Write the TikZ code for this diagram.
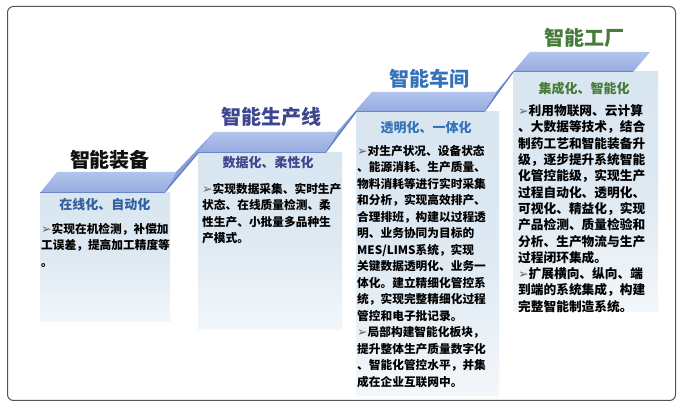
\documentclass[tikz,border=0pt]{standalone}
\usepackage{fontspec}
\newfontfamily\cjk{Noto Sans CJK SC}
\newfontfamily\djv{DejaVu Sans}
\definecolor{framec}{HTML}{555555}
\definecolor{treadtop}{HTML}{B2C3EC}
\definecolor{treadbot}{HTML}{95AADF}
\definecolor{treadline}{HTML}{6A86C8}
\definecolor{riserc}{HTML}{86A0DA}
\definecolor{riserline}{HTML}{5F7CC4}
\definecolor{boxblue}{HTML}{D3E2EE}
\definecolor{cA}{HTML}{111111}
\definecolor{cB}{HTML}{3D468E}
\definecolor{cC}{HTML}{3472B9}
\definecolor{cD}{HTML}{467B3A}
\definecolor{subA}{HTML}{2F5D9E}
\definecolor{arrowc}{HTML}{666666}
\pgfdeclareverticalshading{boxfade}{100bp}{color(0bp)=(white); color(10bp)=(white); color(50bp)=(boxblue!75!white); color(100bp)=(boxblue)}
\newcommand{\myarr}{{\djv\fontsize{12.5}{12.5}\selectfont\color{arrowc}➢}}
\tikzset{
  ttl/.style={font=\cjk\bfseries\fontsize{20}{24}\selectfont, inner sep=0pt},
  subttl/.style={font=\cjk\bfseries\fontsize{13}{16}\selectfont, inner sep=0pt},
  bodytxt/.style={font=\cjk\bfseries\fontsize{11.7}{16.5}\selectfont, align=left, inner sep=0pt, anchor=north west, text=black},
  bodywide/.style={bodytxt, font=\cjk\bfseries\fontsize{12.7}{16.3}\selectfont},
  tread/.style={top color=treadtop, bottom color=treadbot},
  riser/.style={fill=riserc},
  boxbg/.style={shading=boxfade},
}
\begin{document}
\begin{tikzpicture}[x=1pt,y=-1pt]
\useasboundingbox (0,0) rectangle (681,406);
\fill[white] (0,0) rectangle (681,406);
\draw[framec, line width=1pt, rounded corners=6pt] (7.5,6.5) rectangle (675.5,400.5);

% content boxes
\shade[boxbg] (40,193) rectangle (170,322);
\shade[boxbg] (198,153) rectangle (342,330);
\shade[boxbg] (356,112) rectangle (499,396);
\shade[boxbg] (513,72) rectangle (658,312);

% risers
\fill[riser] (164,193) -- (198,153) -- (214,132) -- (176,172) -- cycle;
\draw[riserline, line width=1.2pt] (164,193) -- (198,153);
\fill[riser] (325,153) -- (356,112) -- (372,92) -- (337,132) -- cycle;
\draw[riserline, line width=1.2pt] (325,153) -- (356,112);
\fill[riser] (484,112) -- (513,72) -- (530,52) -- (496,92) -- cycle;
\draw[riserline, line width=1.2pt] (484,112) -- (513,72);

% treads
\shade[tread] (57,172) -- (176,172) -- (164,193) -- (40,193) -- cycle;
\draw[treadline, line width=1.5pt] (40,192.5) -- (164,192.5);
\shade[tread] (214,132) -- (337,132) -- (325,153) -- (198,153) -- cycle;
\draw[treadline, line width=1.5pt] (198,152.5) -- (325,152.5);
\shade[tread] (372,92) -- (496,92) -- (484,112) -- (356,112) -- cycle;
\draw[treadline, line width=1.5pt] (356,111.5) -- (484,111.5);
\shade[tread] (530,52) -- (650,52) -- (633,72) -- (513,72) -- cycle;
\draw[treadline, line width=1.5pt] (513,71.5) -- (633,71.5);

% titles
\node[ttl, text=cA] (t1) at (110,160) {智能装备};
\node[ttl, text=cB] (t2) at (271,117) {智能生产线};
\node[ttl, text=cC] (t3) at (429,79) {智能车间};
\node[ttl, text=cD] (t4) at (584,38) {智能工厂};

% subtitles
\node[subttl, text=subA] (s1) at (105,205) {在线化、自动化};
\node[subttl, text=cB] (s2) at (268,163) {数据化、柔性化};
\node[subttl, text=cC] (s3) at (426,128) {透明化、一体化};
\node[subttl, text=cD] (s4) at (584,89) {集成化、智能化};

% bodies
\node[bodytxt] (b1) at (41,223) {\myarr 实现在机检测，补偿加\\工误差，提高加工精度等\\。};
\node[bodytxt] (b2) at (202,183) {\myarr 实现数据采集、实时生产\\状态、在线质量检测、柔\\性生产、小批量多品种生\\产模式。};
\node[bodytxt] (b3) at (357,145) {\myarr 对生产状况、设备状态\\、能源消耗、生产质量、\\物料消耗等进行实时采集\\和分析，实现高效排产、\\合理排班，构建以过程透\\明、业务协同为目标的\\MES/LIMS系统，实现\\关键数据透明化、业务一\\体化。建立精细化管控系\\统，实现完整精细化过程\\管控和电子批记录。\\\myarr 局部构建智能化板块，\\提升整体生产质量数字化\\、智能化管控水平，并集\\成在企业互联网中。};
\node[bodywide] (b4) at (518,104.5) {\myarr 利用物联网、云计算\\、大数据等技术，结合\\制药工艺和智能装备升\\级，逐步提升系统智能\\化管控能级，实现生产\\过程自动化、透明化、\\可视化、精益化，实现\\产品检测、质量检验和\\分析、生产物流与生产\\过程闭环集成。\\\myarr 扩展横向、纵向、端\\到端的系统集成，构建\\完整智能制造系统。};
\end{tikzpicture}
\end{document}
